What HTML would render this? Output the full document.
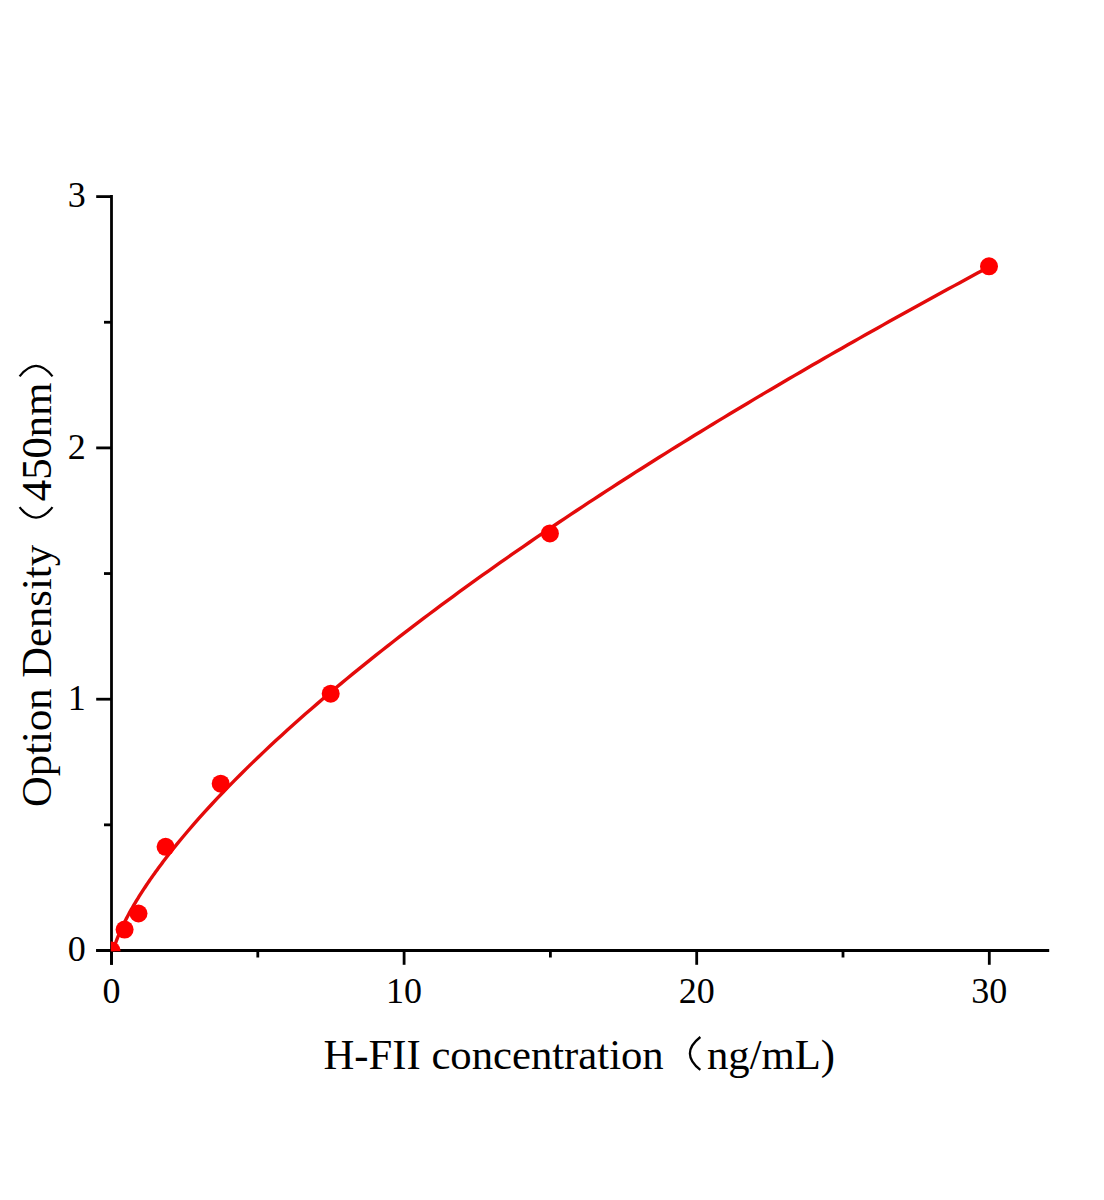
<!DOCTYPE html>
<html><head><meta charset="utf-8"><style>
html,body{margin:0;padding:0;background:#fff;}
svg{display:block;}
text{font-family:"Liberation Serif",serif;fill:#000;}
</style></head><body>
<svg width="1104" height="1200" viewBox="0 0 1104 1200">
<rect width="1104" height="1200" fill="#fff"/>
<defs><clipPath id="pa"><rect x="110.8" y="150" width="960" height="801.3"/></clipPath></defs>
<g stroke="#000" stroke-width="2.8" stroke-linecap="butt" fill="none">
<line x1="111.5" y1="195.1" x2="111.5" y2="964.8"/>
<line x1="96.2" y1="950.5" x2="1049.2" y2="950.5"/>
<line x1="96.2" y1="950.50" x2="111.5" y2="950.50"/>
<line x1="96.2" y1="699.20" x2="111.5" y2="699.20"/>
<line x1="96.2" y1="447.90" x2="111.5" y2="447.90"/>
<line x1="96.2" y1="196.60" x2="111.5" y2="196.60"/>
<line x1="104" y1="824.85" x2="111.5" y2="824.85"/>
<line x1="104" y1="573.55" x2="111.5" y2="573.55"/>
<line x1="104" y1="322.25" x2="111.5" y2="322.25"/>
<line x1="111.50" y1="950.5" x2="111.50" y2="964.8"/>
<line x1="404.10" y1="950.5" x2="404.10" y2="964.8"/>
<line x1="696.70" y1="950.5" x2="696.70" y2="964.8"/>
<line x1="989.30" y1="950.5" x2="989.30" y2="964.8"/>
<line x1="257.80" y1="950.5" x2="257.80" y2="957.5"/>
<line x1="550.40" y1="950.5" x2="550.40" y2="957.5"/>
<line x1="843.00" y1="950.5" x2="843.00" y2="957.5"/>
</g>
<g clip-path="url(#pa)">
<path d="M111.50,959.72 L111.79,957.09 L112.09,955.44 L112.38,954.04 L112.67,952.77 L112.96,951.60 L113.93,948.14 L114.90,945.08 L115.86,942.27 L116.83,939.65 L117.80,937.17 L118.77,934.81 L119.73,932.53 L120.70,930.34 L121.67,928.21 L122.63,926.14 L123.60,924.13 L124.57,922.17 L125.53,920.25 L126.50,918.37 L127.47,916.52 L128.44,914.71 L129.40,912.93 L130.37,911.18 L131.34,909.45 L132.30,907.76 L133.27,906.08 L134.24,904.43 L135.21,902.80 L136.17,901.19 L137.14,899.59 L138.11,898.02 L139.07,896.46 L140.04,894.92 L141.01,893.40 L141.98,891.89 L142.94,890.39 L143.91,888.91 L144.88,887.45 L145.84,885.99 L146.81,884.55 L147.78,883.12 L148.74,881.70 L149.71,880.29 L150.68,878.90 L151.65,877.51 L152.61,876.13 L153.58,874.77 L154.55,873.41 L155.51,872.06 L156.48,870.73 L157.45,869.40 L158.42,868.08 L159.38,866.76 L160.35,865.46 L161.32,864.16 L162.28,862.87 L163.25,861.59 L164.22,860.32 L165.18,859.05 L166.15,857.79 L167.12,856.54 L168.09,855.29 L169.05,854.05 L170.02,852.82 L175.91,845.43 L181.81,838.24 L187.70,831.24 L193.60,824.41 L199.49,817.72 L205.38,811.17 L211.28,804.75 L217.17,798.44 L223.07,792.24 L228.96,786.15 L234.86,780.14 L240.75,774.23 L246.64,768.40 L252.54,762.65 L258.43,756.97 L264.33,751.36 L270.22,745.82 L276.11,740.35 L282.01,734.93 L287.90,729.58 L293.80,724.28 L299.69,719.03 L305.58,713.84 L311.48,708.69 L317.37,703.60 L323.27,698.54 L329.16,693.54 L335.05,688.57 L340.95,683.65 L346.84,678.77 L352.74,673.92 L358.63,669.12 L364.53,664.35 L370.42,659.61 L376.31,654.91 L382.21,650.24 L388.10,645.61 L394.00,641.00 L399.89,636.43 L405.78,631.88 L411.68,627.37 L417.57,622.88 L423.47,618.42 L429.36,613.99 L435.25,609.59 L441.15,605.21 L447.04,600.85 L452.94,596.52 L458.83,592.22 L464.73,587.94 L470.62,583.68 L476.51,579.44 L482.41,575.22 L488.30,571.03 L494.20,566.86 L500.09,562.71 L505.98,558.58 L511.88,554.47 L517.77,550.38 L523.67,546.30 L529.56,542.25 L535.45,538.22 L541.35,534.20 L547.24,530.20 L553.14,526.22 L559.03,522.26 L564.92,518.31 L570.82,514.38 L576.71,510.47 L582.61,506.57 L588.50,502.69 L594.40,498.83 L600.29,494.98 L606.18,491.15 L612.08,487.33 L617.97,483.52 L623.87,479.73 L629.76,475.96 L635.65,472.19 L641.55,468.45 L647.44,464.71 L653.34,460.99 L659.23,457.29 L665.12,453.59 L671.02,449.91 L676.91,446.24 L682.81,442.59 L688.70,438.95 L694.59,435.32 L700.49,431.70 L706.38,428.09 L712.28,424.50 L718.17,420.92 L724.07,417.35 L729.96,413.79 L735.85,410.24 L741.75,406.70 L747.64,403.17 L753.54,399.66 L759.43,396.16 L765.32,392.66 L771.22,389.18 L777.11,385.71 L783.01,382.24 L788.90,378.79 L794.79,375.35 L800.69,371.92 L806.58,368.50 L812.48,365.08 L818.37,361.68 L824.27,358.29 L830.16,354.90 L836.05,351.53 L841.95,348.16 L847.84,344.81 L853.74,341.46 L859.63,338.12 L865.52,334.79 L871.42,331.47 L877.31,328.16 L883.21,324.86 L889.10,321.56 L894.99,318.28 L900.89,315.00 L906.78,311.73 L912.68,308.47 L918.57,305.22 L924.46,301.97 L930.36,298.74 L936.25,295.51 L942.15,292.29 L948.04,289.07 L953.94,285.87 L959.83,282.67 L965.72,279.48 L971.62,276.30 L977.51,273.12 L983.41,269.95 L989.30,266.79" fill="none" stroke="#e30b0b" stroke-width="3.4" stroke-linejoin="round"/>
<g fill="#ff0000">
<circle cx="111.5" cy="950.5" r="9"/>
<circle cx="124.6" cy="929.6" r="9"/>
<circle cx="138.5" cy="913.5" r="9"/>
<circle cx="165.6" cy="846.8" r="9"/>
<circle cx="220.7" cy="783.7" r="9"/>
<circle cx="330.7" cy="693.7" r="9"/>
<circle cx="549.9" cy="533.4" r="9"/>
<circle cx="989.0" cy="266.3" r="9"/>
</g>
</g>
<g font-size="36">
<text x="85.8" y="961.10" text-anchor="end">0</text>
<text x="85.8" y="709.80" text-anchor="end">1</text>
<text x="85.8" y="458.50" text-anchor="end">2</text>
<text x="85.8" y="207.20" text-anchor="end">3</text>
<text x="111.50" y="1003.0" text-anchor="middle">0</text>
<text x="404.10" y="1003.0" text-anchor="middle">10</text>
<text x="696.70" y="1003.0" text-anchor="middle">20</text>
<text x="989.30" y="1003.0" text-anchor="middle">30</text>
</g>
<g font-size="42.7">
<text x="323.5" y="1068.6">H-FII concentration</text>
<text x="707" y="1068.6">ng/mL)</text>
<path d="M700.35,1037.00 Q679.45,1053.45 700.35,1069.90" fill="none" stroke="#000" stroke-width="2.3"/>
<g transform="translate(51.2,807.0) rotate(-90)">
<text x="0" y="0">Option Density</text>
<text x="305.8" y="0">450nm</text>
</g>
<path d="M19.60,507.15 Q36.05,528.05 52.50,507.15" fill="none" stroke="#000" stroke-width="2.3"/>
<path d="M19.60,376.35 Q36.05,355.45 52.50,376.35" fill="none" stroke="#000" stroke-width="2.3"/>
</g>
</svg>
</body></html>
